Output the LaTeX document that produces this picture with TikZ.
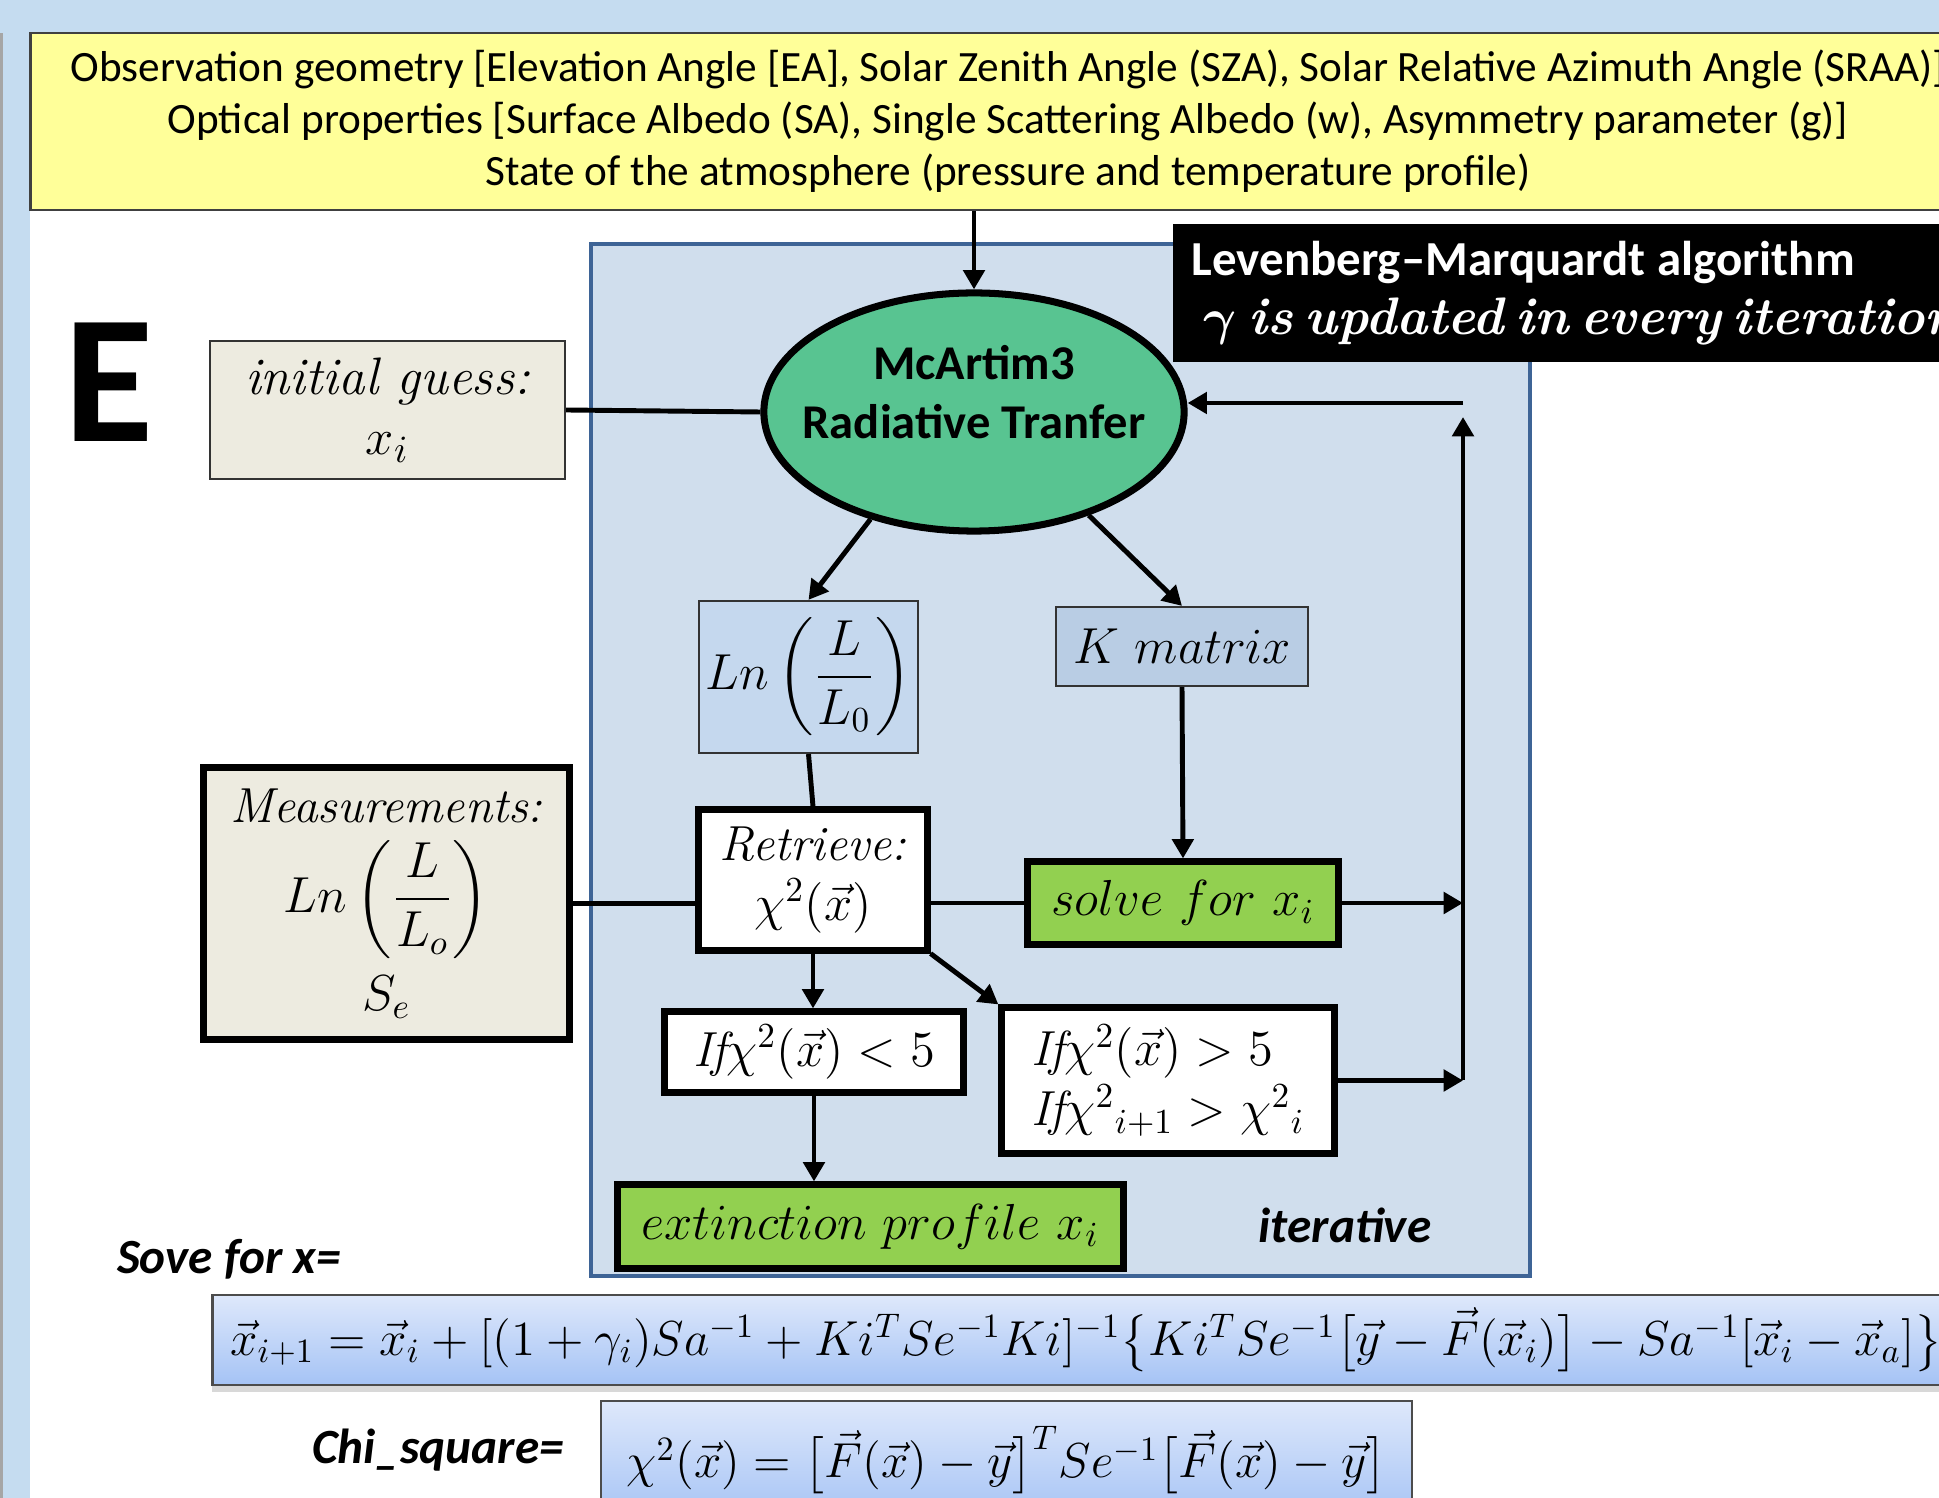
\documentclass[tikz,border=0pt]{standalone}
\usepackage{amsmath,amssymb,bm}
\usepackage{fontspec}
\setsansfont{Carlito}
\usetikzlibrary{arrows.meta,positioning,shapes.geometric,shadows}
\definecolor{bandblue}{RGB}{197,220,240}
\definecolor{bannerfill}{RGB}{255,255,153}
\definecolor{beige}{RGB}{237,235,224}
\definecolor{loopfill}{RGB}{208,222,237}
\definecolor{loopline}{RGB}{62,100,150}
\definecolor{rtgreen}{RGB}{88,196,145}
\definecolor{lnfill}{RGB}{197,216,238}
\definecolor{kfill}{RGB}{185,205,228}
\definecolor{solvegreen}{RGB}{146,208,80}
\definecolor{eqtop}{RGB}{222,232,251}
\definecolor{eqbot}{RGB}{165,195,245}

\begin{document}
\begin{tikzpicture}[x=0.01cm, y=-0.01cm, >={Triangle[length=5.5pt,width=6pt]},
  line/.style={line width=1.4pt},
  box/.style={rectangle, draw=black!80, line width=0.6pt, inner sep=0pt, align=center,
              font=\fontsize{14}{17}\selectfont},
  boldbox/.style={box, draw=black, line width=2pt},
  lbl/.style={font=\sffamily\bfseries\itshape\fontsize{14}{16}\selectfont},
  eqbox/.style={rectangle, draw=black!70, line width=0.6pt, inner sep=0pt,
                top color=eqtop, bottom color=eqbot, font=\fontsize{14}{17}\selectfont,
                drop shadow={shadow xshift=0pt, shadow yshift=-2pt, opacity=.3}}]
  \useasboundingbox (0,0) rectangle (1939,1498);
  \clip (0,0) rectangle (1939,1498);
  % page background
  \fill[white] (0,0) rectangle (1939,1498);
  \fill[bandblue] (0,0) rectangle (1939,33);
  \fill[bandblue] (0,0) rectangle (30,1498);
  \fill[gray!70] (0,33) rectangle (3,1498);

  % inputs
  \node[rectangle, fill=bannerfill, draw=black!75, line width=0.8pt, minimum width=19.54cm,
        minimum height=1.77cm, align=center, font=\sffamily\fontsize{12.3}{14.8}\selectfont]
        (obs) at (1008,121.5)
        {Observation geometry [Elevation Angle [EA], Solar Zenith Angle (SZA), Solar Relative Azimuth Angle (SRAA)]\\
         Optical properties [Surface Albedo (SA), Single Scattering Albedo (w), Asymmetry parameter (g)]\\
         State of the atmosphere (pressure and temperature profile)};
  \node[font=\sffamily\bfseries\fontsize{52}{52}\selectfont] (tag) at (109,382) {E};
  \node[box, fill=beige, minimum width=3.55cm, minimum height=1.38cm, font=\fontsize{15}{17}\selectfont]
        (guess) at (387.5,410) {\textit{initial guess:}\\ $x_i$};

  % iterative loop
  \node[rectangle, fill=loopfill, draw=loopline, line width=1.1pt, minimum width=9.39cm,
        minimum height=10.32cm] (loop) at (1060.5,760) {};
  \node[rectangle, fill=black, text=white, anchor=west, minimum height=1.38cm, inner xsep=0.19cm,
        text width=9cm, align=left] (lm) at (1172,293)
        {{\sffamily\bfseries\fontsize{13.9}{16.5}\selectfont Levenberg--Marquardt algorithm}\\[3pt]
         {\fontsize{15}{16.5}\selectfont\bfseries\itshape\ $\bm{\gamma}$ is updated in every iteration}};
  \node[ellipse, draw=black, line width=2pt, fill=rtgreen, minimum width=4.2cm,
        minimum height=2.38cm, inner sep=0pt] (rt) at (974,412) {};
  \node[align=center, font=\sffamily\bfseries\fontsize{13.8}{16.8}\selectfont]
        (rttext) at (974,392) {McArtim3\\ Radiative Tranfer};
  \node[box, fill=lnfill, minimum width=2.19cm, minimum height=1.52cm] (lnr) at (808.5,677)
        {$Ln\left(\dfrac{L}{L_0}\right)$};
  \node[box, fill=kfill, minimum width=2.52cm, minimum height=0.79cm] (kmat) at (1182,646.5)
        {$K\ matrix$};
  \node[boldbox, fill=white, minimum width=2.28cm, minimum height=1.4cm] (ret) at (813,880)
        {\textit{Retrieve:}\\ $\chi^2(\vec{x})$};
  \node[boldbox, fill=solvegreen, minimum width=3.1cm, minimum height=0.82cm] (solve) at (1183,903)
        {$solve\ for\ x_i$};
  \node[boldbox, fill=beige, minimum width=3.65cm, minimum height=2.71cm] (meas) at (386.5,903.5)
        {\textit{Measurements:}\\[4pt] $Ln\left(\dfrac{L}{L_o}\right)$\\[4pt] $S_e$};
  \node[boldbox, fill=white, minimum width=2.98cm, minimum height=0.8cm] (lt5) at (814,1052)
        {$\mathit{If}\chi^2(\vec{x}) < 5$};
  \node[boldbox, fill=white, minimum width=3.32cm, minimum height=1.45cm, align=left] (gt5) at (1168,1080.5)
        {$\mathit{If}\chi^2(\vec{x}) > 5$\\ $\mathit{If}\chi^2{}_{i+1} > \chi^2{}_i$};
  \node[boldbox, fill=solvegreen, minimum width=5.05cm, minimum height=0.83cm] (ext) at (870.5,1226.5)
        {$extinction\ profile\ x_i$};
  \node[lbl] (itlabel) at (1345,1225) {iterative};
  \coordinate (fbtip) at (1463,417);
  \coordinate (fbtop) at (1463,403);

  % connectors
  \draw[->, line] (obs.south -| rt.north) -- (rt.north);
  \draw[line] (guess.east) -- (rt.west);
  \draw[->, line] (rt.226) -- (lnr.north);
  \draw[->, line] (rt.318) -- (kmat.north);
  \draw[line] (lnr.south) -- (ret.north);
  \draw[->, line] (kmat.south) -- (solve.north);
  \draw[line] (meas.east) -- (meas.east -| ret.west);
  \draw[line] (solve.west -| ret.east) -- (solve.west);
  \draw[->, line] (ret.south) -- (ret.south |- lt5.north);
  \draw[->, line] (ret.south east) -- (gt5.north west);
  \draw[->, line] (lt5.south) -- (lt5.south |- ext.north);
  \draw[->, line] (solve.east) -- (solve.east -| fbtip);
  \draw[->, line] (gt5.east) -- (gt5.east -| fbtip);
  \draw[->, line] (gt5.east -| fbtip) -- (fbtip);
  \draw[->, line] (fbtop) -- (fbtop -| rt.east);

  % equations
  \node[lbl] (sove) at (229,1259) {Sove for x=};
  \node[eqbox, minimum width=17.47cm, minimum height=0.9cm] (eqx) at (1086.5,1340)
        {\scalebox{0.97}{$\vec{x}_{i+1} = \vec{x}_i + [(1+\gamma_i)Sa^{-1} + Ki^T Se^{-1}Ki]^{-1}\bigl\{Ki^T Se^{-1}\bigl[\vec{y} - \vec{F}(\vec{x}_i)\bigr] - Sa^{-1}[\vec{x}_i - \vec{x}_a]\bigr\}$}};
  \node[lbl] (chisq) at (438,1450) {Chi\_square=};
  \node[eqbox, minimum width=8.11cm, minimum height=1.19cm] (eqchi) at (1006.5,1460.5)
        {\scalebox{0.97}{$\chi^2(\vec{x}) = \bigl[\vec{F}(\vec{x}) - \vec{y}\bigr]^T Se^{-1}\bigl[\vec{F}(\vec{x}) - \vec{y}\bigr]$}};
\end{tikzpicture}
\end{document}
